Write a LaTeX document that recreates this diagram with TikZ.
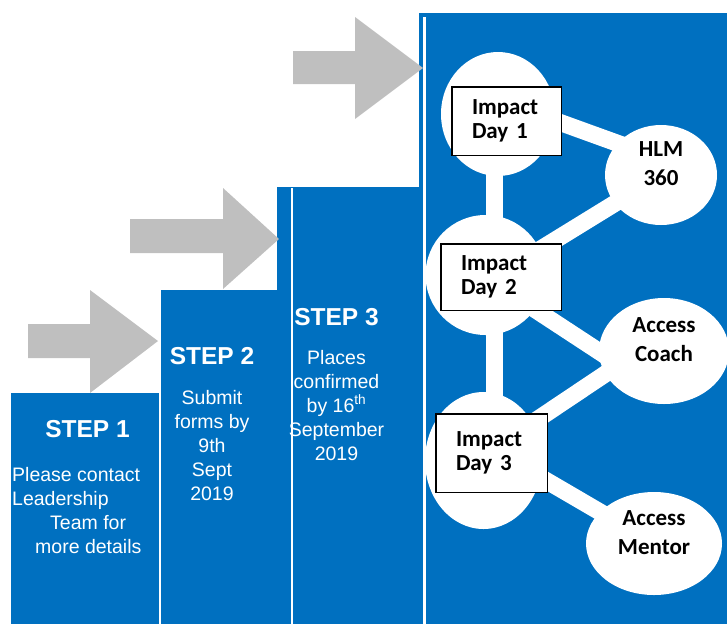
\documentclass[tikz,border=0pt]{standalone}
\usepackage{fontspec}
\setmainfont{Liberation Sans}
\newfontfamily\calfont{Carlito}
\usetikzlibrary{shapes.geometric,calc}
\definecolor{stepblue}{HTML}{0070C0}
\definecolor{arrowgray}{HTML}{BFBFBF}
\pgfdeclarelayer{bg}
\pgfdeclarelayer{conn}
\pgfsetlayers{bg,conn,main}
\begin{document}
\begin{tikzpicture}[x=1pt,y=-1pt,
  stepbar/.style={fill=stepblue,draw=none},
  bigarrow/.style={fill=arrowgray,draw=none},
  sepline/.style={fill=white,draw=none},
  steptitle/.style={text=white,font=\bfseries\fontsize{24.5}{29}\selectfont,inner sep=0pt,anchor=base},
  steptext/.style={text=white,font=\fontsize{19.5}{24}\selectfont,inner sep=0pt,align=center,anchor=north},
  bubble/.style={ellipse,fill=white,draw=none,inner sep=0pt},
  namebubble/.style={ellipse,fill=white,draw=none,inner sep=0pt,font=\calfont\bfseries\fontsize{23}{29}\selectfont,align=center,text depth=22pt},
  daybox/.style={rectangle,fill=white,draw=black,line width=1.5pt,font=\calfont\bfseries\fontsize{23}{24.5}\selectfont,align=left,inner sep=0pt},
  link/.style={draw=white,line width=17pt}]
\useasboundingbox (0,0) rectangle (727,624);

% background bars and arrows
\begin{pgfonlayer}{bg}
  \path[stepbar] (11,393) rectangle (159,624);
  \path[stepbar] (161,290) rectangle (290,624);
  \path[stepbar] (277,187) rectangle (419,624);
  \path[stepbar] (419,13) rectangle (727,624);
  \path[sepline] (291,188) rectangle (293,624);
  \path[sepline] (423,17) rectangle (426,624);
  \path[bigarrow] (28,324) -- (90,324) -- (90,290) -- (158,341) -- (90,393) -- (90,358) -- (28,358) -- cycle;
  \path[bigarrow] (130,219) -- (223,219) -- (223,188) -- (279,239) -- (223,289) -- (223,253) -- (130,253) -- cycle;
  \path[bigarrow] (293,51) -- (355,51) -- (355,17) -- (423,68) -- (355,119) -- (355,84) -- (293,84) -- cycle;
\end{pgfonlayer}

% step texts
\node[steptitle] (s1title) at (87.5,437) {STEP 1};
\node[steptext,align=left,anchor=north west] (s1text) at (12,467)
  {Please contact\\Leadership\\\hspace*{38pt}Team for\\\hspace*{23pt}more details};
\node[steptitle] (s2title) at (212,364) {STEP 2};
\node[steptext] (s2text) at (212,390) {Submit\\forms by\\9th\\Sept\\2019};
\node[steptitle] (s3title) at (336.5,325) {STEP 3};
\node[steptext] (s3text) at (336.5,350) {Places\\confirmed\\by 16\textsuperscript{th}\\September\\2019};

% bubbles
\node[bubble,minimum width=114pt,minimum height=124pt] (c1) at (498,114) {};
\node[bubble,minimum width=120pt,minimum height=120pt] (c2) at (485.5,275) {};
\node[bubble,minimum width=117pt,minimum height=137pt] (c3) at (483.5,460.5) {};
\node[namebubble,minimum width=112pt,minimum height=100pt] (hlm) at (661,175) {HLM\\360};
\node[namebubble,minimum width=130pt,minimum height=106pt] (coach) at (664,351) {Access\\Coach};
\node[namebubble,minimum width=136pt,minimum height=103pt] (mentor) at (654,543.5) {Access\\Mentor};

% day boxes
\node[daybox,minimum width=109.5pt,minimum height=68.5pt,text width=69pt] (b1) at (506.5,121) {Impact\\Day 1};
\node[daybox,minimum width=120.5pt,minimum height=66.5pt,text width=80pt] (b2) at (501,277) {Impact\\Day 2};
\node[daybox,minimum width=111.5pt,minimum height=78.5pt,text width=71pt] (b3) at (491.5,453) {Impact\\Day 3};

% connectors
\begin{pgfonlayer}{conn}
  \draw[link] ([xshift=-3.5pt]c1.center) -- ([xshift=9pt]c2.center);
  \draw[link] ([xshift=9pt]c2.center) -- ([xshift=11pt]c3.center);
  \draw[link] ([yshift=14pt]c1.center) -- ([yshift=16pt]hlm.center);
  \draw[link] ([yshift=-8pt]c2.center) -- (hlm.center);
  \draw[link] ([yshift=-2pt]c2.center) -- ([xshift=-23pt,yshift=-28pt]coach.center);
  \draw[link] ([yshift=5pt]c3.center) -- ([xshift=-23pt,yshift=1pt]coach.center);
  \draw[link] ([yshift=16.5pt]c3.center) -- (mentor.center);
\end{pgfonlayer}
\end{tikzpicture}
\end{document}
